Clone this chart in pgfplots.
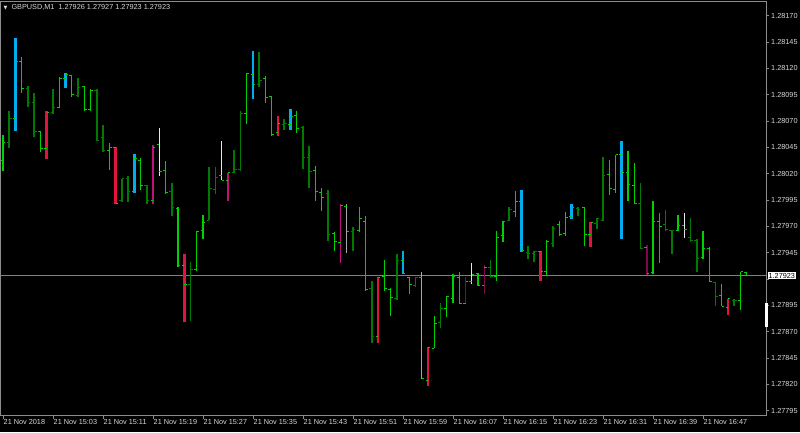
\documentclass[border=0pt]{standalone}
\usepackage{fontspec}
\setmainfont{Liberation Sans}
\newfontfamily\dejavu{DejaVu Sans}
\usepackage{pgfplots}
\usepackage{pgfplotstable}
\pgfplotsset{compat=1.18}

\definecolor{barlime}{HTML}{00D200}
\definecolor{bargreen}{HTML}{007A00}
\definecolor{barcyan}{HTML}{00AEEF}
\definecolor{barred}{HTML}{E0143C}
\definecolor{barmag}{HTML}{C0107A}
\definecolor{bardmag}{HTML}{7A0A48}
\definecolor{barwhite}{HTML}{E6E6E6}
\definecolor{bargray}{HTML}{A8A8A8}
\definecolor{framegray}{HTML}{8C8C8C}
\definecolor{txt}{HTML}{D8D8D8}

% GBPUSD M1, 21 Nov 2018 from 14:55
% k = bar colour: 1 lime, 2 green, 3 cyan, 4 red, 5 magenta, 6 dark magenta, 7 white, 8 grey
\pgfplotstableread{
i O H L C k
0 1.28033 1.28057 1.28023 1.28050 1
1 1.28050 1.28080 1.28044 1.28072 2
2 1.28072 1.28149 1.28061 1.28127 3
3 1.28127 1.28131 1.28097 1.28101 1
4 1.28101 1.28103 1.28083 1.28088 2
5 1.28088 1.28097 1.28055 1.28060 2
6 1.28060 1.28060 1.28041 1.28044 1
7 1.28044 1.28080 1.28034 1.28078 4
8 1.28078 1.28100 1.28077 1.28083 2
9 1.28083 1.28112 1.28082 1.28110 1
10 1.28110 1.28116 1.28101 1.28114 3
11 1.28113 1.28113 1.28093 1.28095 1
12 1.28094 1.28111 1.28093 1.28102 2
13 1.28103 1.28103 1.28080 1.28081 1
14 1.28081 1.28100 1.28080 1.28099 1
15 1.28099 1.28100 1.28051 1.28052 2
16 1.28054 1.28066 1.28041 1.28042 2
17 1.28042 1.28049 1.28024 1.28045 1
18 1.28045 1.28045 1.27991 1.27992 4
19 1.27995 1.28015 1.27993 1.28015 2
20 1.28015 1.28018 1.27993 1.28003 2
21 1.28003 1.28039 1.28002 1.28034 3
22 1.28033 1.28035 1.28005 1.28009 1
23 1.28009 1.28009 1.27991 1.27995 2
24 1.27995 1.28047 1.27991 1.28045 5
25 1.28048 1.28063 1.28018 1.28022 7
26 1.28023 1.28032 1.28001 1.28002 1
27 1.28003 1.28011 1.27980 1.27988 2
28 1.27987 1.27988 1.27931 1.27933 1
29 1.27933 1.27944 1.27879 1.27915 4
30 1.27915 1.27936 1.27880 1.27929 2
31 1.27929 1.27966 1.27928 1.27965 1
32 1.27966 1.27981 1.27958 1.27974 1
33 1.27976 1.28026 1.27976 1.28006 2
34 1.28005 1.28026 1.28001 1.28016 2
35 1.28018 1.28051 1.28014 1.28014 7
36 1.28014 1.28021 1.27994 1.28021 5
37 1.28021 1.28043 1.28021 1.28024 2
38 1.28024 1.28080 1.28023 1.28077 2
39 1.28077 1.28116 1.28067 1.28115 1
40 1.28114 1.28137 1.28091 1.28105 3
41 1.28105 1.28136 1.28102 1.28109 2
42 1.28110 1.28113 1.28087 1.28092 1
43 1.28093 1.28094 1.28056 1.28057 1
44 1.28059 1.28075 1.28056 1.28068 4
45 1.28067 1.28072 1.28062 1.28068 2
46 1.28067 1.28081 1.28062 1.28074 3
47 1.28075 1.28080 1.28059 1.28063 1
48 1.28064 1.28065 1.28024 1.28035 2
49 1.28035 1.28046 1.28006 1.28022 2
50 1.28023 1.28027 1.27994 1.28003 1
51 1.28002 1.28006 1.27985 1.27997 1
52 1.28001 1.28005 1.27956 1.27962 2
53 1.27963 1.27965 1.27947 1.27956 1
54 1.27955 1.27991 1.27935 1.27990 5
55 1.27989 1.27991 1.27945 1.27965 8
56 1.27965 1.27969 1.27947 1.27967 2
57 1.27966 1.27988 1.27965 1.27977 1
58 1.27975 1.27980 1.27909 1.27910 1
59 1.27911 1.27918 1.27859 1.27865 2
60 1.27865 1.27922 1.27859 1.27921 4
61 1.27922 1.27938 1.27909 1.27911 1
62 1.27910 1.27911 1.27885 1.27902 1
63 1.27901 1.27944 1.27900 1.27938 2
64 1.27938 1.27947 1.27925 1.27925 3
65 1.27921 1.27922 1.27906 1.27915 1
66 1.27914 1.27922 1.27912 1.27921 2
67 1.27921 1.27927 1.27825 1.27825 8
68 1.27824 1.27855 1.27818 1.27855 4
69 1.27854 1.27885 1.27854 1.27878 1
70 1.27879 1.27897 1.27873 1.27892 2
71 1.27892 1.27904 1.27884 1.27903 1
72 1.27901 1.27925 1.27897 1.27922 1
73 1.27921 1.27927 1.27896 1.27897 1
74 1.27897 1.27922 1.27896 1.27918 6
75 1.27918 1.27935 1.27915 1.27924 7
76 1.27925 1.27926 1.27913 1.27914 1
77 1.27914 1.27933 1.27906 1.27931 6
78 1.27931 1.27938 1.27921 1.27922 2
79 1.27922 1.27966 1.27918 1.27959 1
80 1.27961 1.27975 1.27955 1.27975 1
81 1.27976 1.27988 1.27975 1.27986 2
82 1.27984 1.28004 1.27979 1.27994 1
83 1.27994 1.28005 1.27946 1.27947 3
84 1.27945 1.27951 1.27939 1.27944 2
85 1.27944 1.27947 1.27936 1.27946 2
86 1.27946 1.27947 1.27918 1.27927 4
87 1.27927 1.27957 1.27923 1.27956 1
88 1.27954 1.27970 1.27950 1.27968 2
89 1.27972 1.27975 1.27961 1.27962 1
90 1.27963 1.27984 1.27961 1.27978 1
91 1.27979 1.27991 1.27977 1.27988 3
92 1.27987 1.27988 1.27980 1.27986 2
93 1.27988 1.27988 1.27951 1.27962 1
94 1.27962 1.27974 1.27950 1.27974 4
95 1.27973 1.27978 1.27967 1.27977 2
96 1.27976 1.28036 1.27975 1.28018 2
97 1.28019 1.28033 1.28000 1.28006 1
98 1.28005 1.28038 1.28002 1.28038 1
99 1.28038 1.28051 1.27958 1.28021 3
100 1.28021 1.28042 1.27994 1.28010 1
101 1.28009 1.28030 1.27991 1.27992 1
102 1.27992 1.28011 1.27948 1.27949 2
103 1.27950 1.27952 1.27924 1.27925 6
104 1.27926 1.27994 1.27925 1.27975 1
105 1.27975 1.27983 1.27935 1.27970 1
106 1.27972 1.27986 1.27966 1.27967 2
107 1.27966 1.27967 1.27944 1.27966 2
108 1.27966 1.27981 1.27966 1.27971 1
109 1.27971 1.27983 1.27959 1.27967 7
110 1.27959 1.27978 1.27955 1.27957 2
111 1.27957 1.27958 1.27927 1.27939 2
112 1.27940 1.27966 1.27939 1.27949 1
113 1.27949 1.27950 1.27918 1.27918 1
114 1.27917 1.27917 1.27894 1.27903 2
115 1.27904 1.27915 1.27894 1.27894 1
116 1.27893 1.27901 1.27886 1.27901 4
117 1.27900 1.27901 1.27894 1.27900 2
118 1.27900 1.27927 1.27891 1.27927 1
119 1.27926 1.27927 1.27923 1.27923 1
}\bars

\pgfdeclareplotmark{otick}{\pgfpathmoveto{\pgfqpoint{-2.4pt}{0pt}}\pgfpathlineto{\pgfqpoint{0pt}{0pt}}\pgfusepathqstroke}
\pgfdeclareplotmark{ctick}{\pgfpathmoveto{\pgfqpoint{0pt}{0pt}}\pgfpathlineto{\pgfqpoint{2.4pt}{0pt}}\pgfusepathqstroke}

% #1 class, #2 bar colour, #3 bar width, #4 tick colour
\newcommand{\ohlc}[4]{%
  \addplot[draw=none, mark=none, forget plot,
    error bars/.cd, y dir=minus, y explicit, error mark=none,
    error bar style={line width=#3, draw=#2, solid}]
    table[x expr={\thisrow{k}==#1 ? \thisrow{i} : nan}, y=H,
      y error minus expr=\thisrow{H}-\thisrow{L}] {\bars};
  \addplot[only marks, mark=otick, forget plot, mark options={line width=1pt, draw=#4}]
    table[x expr={\thisrow{k}==#1 ? \thisrow{i} : nan}, y=O] {\bars};
  \addplot[only marks, mark=ctick, forget plot, mark options={line width=1pt, draw=#4}]
    table[x expr={\thisrow{k}==#1 ? \thisrow{i} : nan}, y=C] {\bars};
}

\begin{document}
\begin{tikzpicture}
\path[use as bounding box, fill=black] (0,0) rectangle (800pt,432pt);
\begin{axis}[
  at={(1pt,16.5pt)}, anchor=south west,
  scale only axis, width=765pt, height=414pt,
  xmin=-0.32, xmax=122.08,
  ymin=1.277903, ymax=1.281836,
  clip=false, unbounded coords=discard,
  axis line style={draw=framegray, line width=1pt},
  tick align=outside, major tick length=3pt,
  tick style={draw=framegray, line width=0.8pt},
  xtick pos=bottom, ytick pos=right, yticklabel pos=right,
  xtick={0,8,...,112},
  xticklabels={21 Nov 2018, 21 Nov 15:03, 21 Nov 15:11, 21 Nov 15:19, 21 Nov 15:27,
    21 Nov 15:35, 21 Nov 15:43, 21 Nov 15:51, 21 Nov 15:59, 21 Nov 16:07,
    21 Nov 16:15, 21 Nov 16:23, 21 Nov 16:31, 21 Nov 16:39, 21 Nov 16:47},
  ytick={1.27795,1.27820,1.27845,1.27870,1.27895,1.27920,1.27945,1.27970,
    1.27995,1.28020,1.28045,1.28070,1.28095,1.28120,1.28145,1.28170},
  yticklabels={1.27795,1.27820,1.27845,1.27870,1.27895,,1.27945,1.27970,
    1.27995,1.28020,1.28045,1.28070,1.28095,1.28120,1.28145,1.28170},
  ticklabel style={font=\fontsize{7.3}{8}\selectfont, text=txt},
  xticklabel style={anchor=north west, inner sep=0pt, xshift=0.5pt, yshift=-1pt},
  yticklabel style={anchor=west, inner sep=0pt, xshift=2pt},
]
\addplot[draw=framegray!110, line width=0.8pt, forget plot]
  coordinates {(-0.32,1.27923) (122.08,1.27923)};

\ohlc{1}{barlime}{1.1pt}{barlime}
\ohlc{2}{bargreen}{1.7pt}{bargreen}
\ohlc{7}{barwhite}{1pt}{barlime}
\ohlc{8}{bargray}{1.4pt}{barlime}
\ohlc{5}{barmag}{1.1pt}{barlime}
\ohlc{6}{bardmag}{1.5pt}{barlime}
\ohlc{3}{barcyan}{2.8pt}{barlime}
\ohlc{4}{barred}{2.8pt}{barlime}

\addplot[draw=white, line width=3pt, forget plot]
  coordinates {(122.08,1.27874) (122.08,1.27897)};
\node[anchor=west, fill=white, text=black, inner sep=0.9pt, xshift=1.5pt,
  font=\fontsize{7.3}{8}\selectfont] at (axis cs:122.08,1.27923) {1.27923};
\end{axis}
\node[anchor=west, text=txt, inner sep=0pt, font=\fontsize{7.3}{8}\selectfont]
  at (3.5pt,424.5pt) {{\dejavu\fontsize{5}{6}\selectfont ▼}\hspace{4pt}GBPUSD,M1\hspace{4pt}1.27926 1.27927 1.27923 1.27923};
\end{tikzpicture}
\end{document}
